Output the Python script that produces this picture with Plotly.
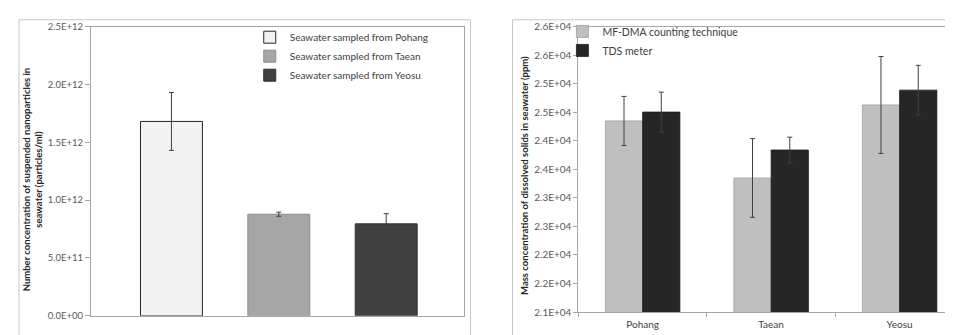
import plotly.graph_objects as go

# ---- Left chart data ----
sites = ["Pohang", "Taean", "Yeosu"]
left_series_names = ["Seawater sampled from Pohang", "Seawater sampled from Taean", "Seawater sampled from Yeosu"]
left_values = [1.68e12, 0.878e12, 0.795e12]
left_errors = [0.25e12, 0.018e12, 0.088e12]
left_colors = ["#f2f2f2", "#a6a6a6", "#404040"]
left_edge = ["#262626", "#8c8c8c", "#303030"]
left_tickvals = [0, 0.5e12, 1.0e12, 1.5e12, 2.0e12, 2.5e12]
left_ticktext = ["0.0E+00", "5.0E+11", "1.0E+12", "1.5E+12", "2.0E+12", "2.5E+12"]

# ---- Right chart data ----
right_categories = ["Pohang", "Taean", "Yeosu"]
mf_values = [24350, 23350, 24630]
mf_errors = [430, 690, 850]
tds_values = [24505, 23840, 24890]
tds_errors = [350, 225, 435]
right_tickvals = [21000, 21500, 22000, 22500, 23000, 23500, 24000, 24500, 25000, 25500, 26000]
right_ticktext = ["2.1E+04", "2.2E+04", "2.2E+04", "2.3E+04", "2.3E+04", "2.4E+04",
                  "2.4E+04", "2.5E+04", "2.5E+04", "2.6E+04", "2.6E+04"]

W, H = 953, 335
FONT = "Lato"
TICKC = "#595959"
AXC = "#a6a6a6"

def px_x(p):
    return p / W

def px_y(p):
    return 1 - p / H

fig = go.Figure()

lw = 0.577
for name, site, v, e, c, ec in zip(left_series_names, sites, left_values, left_errors, left_colors, left_edge):
    fig.add_trace(go.Bar(
        x=[site], y=[v], name=name, width=lw, offset=-lw / 2,
        marker=dict(color=c, line=dict(color=ec, width=1)),
        error_y=dict(type="data", array=[e], color="#404040", thickness=1, width=2.5),
        xaxis="x", yaxis="y", legend="legend",
    ))

rw = 0.29
fig.add_trace(go.Bar(
    x=right_categories, y=mf_values, name="MF-DMA counting technique",
    width=rw, offset=-rw,
    marker=dict(color="#bfbfbf", line=dict(color="#a0a0a0", width=0.8)),
    error_y=dict(type="data", array=mf_errors, color="#404040", thickness=1, width=2.5),
    xaxis="x2", yaxis="y2", legend="legend2",
))
fig.add_trace(go.Bar(
    x=right_categories, y=tds_values, name="TDS meter",
    width=rw, offset=0,
    marker=dict(color="#262626", line=dict(color="#1a1a1a", width=0.8)),
    error_y=dict(type="data", array=tds_errors, color="#404040", thickness=1, width=2.5),
    xaxis="x2", yaxis="y2", legend="legend2",
))

axis_common = dict(showgrid=False, zeroline=False, showline=True, linecolor=AXC,
                   linewidth=1, mirror=True)

fig.update_layout(
    width=W, height=H,
    margin=dict(l=0, r=0, t=0, b=0),
    paper_bgcolor="white", plot_bgcolor="white",
    font=dict(family=FONT, color=TICKC, size=10),
    barmode="group",
    xaxis=dict(domain=[px_x(83), px_x(456)], range=[-0.75, 2.72], showticklabels=False,
               ticks="", anchor="y", **axis_common),
    yaxis=dict(domain=[px_y(313), px_y(12)], range=[0, 2.5e12], tickvals=left_tickvals,
               ticktext=left_ticktext, ticks="outside", ticklen=5, tickcolor=AXC,
               tickfont=dict(size=9.5, color=TICKC), anchor="x", **axis_common),
    xaxis2=dict(domain=[px_x(571), 1.0], range=[-0.5, 2.47], ticks="outside", ticklen=4,
                tickson="boundaries", tickcolor=AXC, tickfont=dict(size=10, color="#404040"),
                ticklabelstandoff=3, anchor="y2", **axis_common),
    yaxis2=dict(domain=[px_y(309), px_y(12.3)], range=[21000, 26000], tickvals=right_tickvals,
                ticktext=right_ticktext, ticks="outside", ticklen=4, tickcolor=AXC,
                tickfont=dict(size=10, color=TICKC), anchor="x2", **axis_common),
    legend=dict(x=px_x(242), y=px_y(8), xanchor="left", yanchor="top",
                bgcolor="rgba(0,0,0,0)", font=dict(size=10, color="#404040"),
                tracegroupgap=0),
    legend2=dict(x=px_x(555), y=px_y(2), xanchor="left", yanchor="top",
                 bgcolor="rgba(0,0,0,0)", font=dict(size=10.5, color="#404040"),
                 tracegroupgap=0),
    showlegend=True,
    shapes=[
        dict(type="rect", xref="paper", yref="paper", x0=px_x(11), x1=px_x(463),
             y0=-0.05, y1=px_y(5), line=dict(color="#c8c8c8", width=1)),
        dict(type="rect", xref="paper", yref="paper", x0=px_x(505), x1=1.05,
             y0=-0.05, y1=px_y(5), line=dict(color="#c8c8c8", width=1)),
    ],
    annotations=[
        dict(text="Number concentration of suspended nanoparticles in<br>seawater (particles/ml)",
             xref="paper", yref="paper", x=px_x(24), y=px_y(171), textangle=-90,
             showarrow=False, xanchor="center", yanchor="middle",
             font=dict(size=9.5, color="#262626", family=FONT, weight="bold")),
        dict(text="Mass concentration of dissolved solids in seawater (ppm)",
             xref="paper", yref="paper", x=px_x(517), y=px_y(167), textangle=-90,
             showarrow=False, xanchor="center", yanchor="middle",
             font=dict(size=9.5, color="#262626", family=FONT, weight="bold")),
    ],
)

fig.write_html("out.html")
